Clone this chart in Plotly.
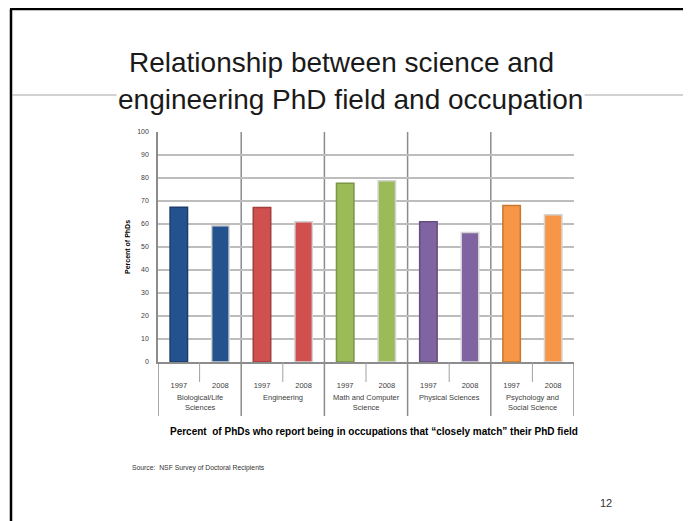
import plotly.graph_objects as go

categories = ["Biological/Life<br>Sciences", "Engineering", "Math and Computer<br>Science",
              "Physical Sciences", "Psychology and<br>Social Science"]
years = ["1997", "2008"]
values_1997 = [67.3, 67.2, 77.7, 61.0, 68.0]
values_2008 = [59.2, 61.0, 78.8, 56.3, 64.0]
colors = ["#23528E", "#D0504F", "#9BBB59", "#8064A2", "#F79646"]
edge_1997 = ["#1A3E6C", "#A23E3C", "#7A9646", "#634E80", "#C9782F"]
edge_2008 = "#D4D4D4"

OFF = 8  # page body margin
W, H = 691 - OFF, 521 - OFF
L, R, T, B = 158 - OFF, 574 - OFF, 132 - OFF, 362 - OFF

def px(x):
    return (x - OFF - L) / (R - L)

def py(y):
    return (B - (y - OFF)) / (B - T)

nyr = len(years)
xpos, xlab, yvals, mcol, lcol = [], [], [], [], []
for i, c in enumerate(categories):
    for j, yr in enumerate(years):
        xpos.append(i * nyr + j)
        xlab.append(yr)
        yvals.append(values_1997[i] if j == 0 else values_2008[i])
        mcol.append(colors[i])
        lcol.append(edge_1997[i] if j == 0 else edge_2008)

fig = go.Figure(go.Bar(
    x=xpos, y=yvals,
    marker=dict(color=mcol, line=dict(color=lcol, width=1.5)),
    width=0.42, showlegend=False,
))

ncat = len(categories)
shapes = []
for k in range(ncat + 1):
    xb = k * nyr - 0.5
    top = 1 if 0 < k < ncat else 0
    shapes.append(dict(type="line", xref="x", yref="paper",
                       x0=xb, x1=xb, y0=py(416), y1=top,
                       line=dict(color="#8C8C8C", width=1.5), layer="below"))
for k in range(ncat):
    xb = k * nyr + 0.5
    shapes.append(dict(type="line", xref="x", yref="paper",
                       x0=xb, x1=xb, y0=py(382), y1=0,
                       line=dict(color="#A0A0A0", width=1)))
shapes.append(dict(type="line", xref="paper", yref="paper",
                   x0=px(11), x1=px(11), y0=py(9), y1=py(530),
                   line=dict(color="#000000", width=2.5)))
shapes.append(dict(type="line", xref="paper", yref="paper",
                   x0=px(10), x1=px(700), y0=py(9), y1=py(9),
                   line=dict(color="#000000", width=2.5)))
shapes.append(dict(type="line", xref="paper", yref="paper",
                   x0=px(12), x1=px(700), y0=py(95), y1=py(95),
                   line=dict(color="#A6A6A6", width=1)))

FONT = "Liberation Sans, Arial"
annotations = [
    dict(text="Relationship between science and", x=px(341), y=py(63),
         xref="paper", yref="paper", showarrow=False, xanchor="center", yanchor="middle",
         font=dict(family=FONT, size=28, color="#1A1A1A")),
    dict(text="engineering PhD field and occupation", x=px(350), y=py(100),
         xref="paper", yref="paper", showarrow=False, xanchor="center", yanchor="middle",
         bgcolor="#FFFFFF",
         font=dict(family=FONT, size=28, color="#1A1A1A")),
    dict(text="<b>Percent  of PhDs who report being in occupations that \u201cclosely match\u201d their PhD field</b>",
         x=px(374), y=py(431), xref="paper", yref="paper", showarrow=False,
         xanchor="center", yanchor="middle",
         font=dict(family=FONT, size=10, color="#000000")),
    dict(text="Source:  NSF Survey of Doctoral Recipients", x=px(130), y=py(468),
         xref="paper", yref="paper", showarrow=False, xanchor="left", yanchor="middle",
         font=dict(family=FONT, size=6.8, color="#333333")),
    dict(text="12", x=px(606), y=py(503), xref="paper", yref="paper", showarrow=False,
         xanchor="center", yanchor="middle",
         font=dict(family=FONT, size=11, color="#333333")),
]
for i, c in enumerate(categories):
    annotations.append(dict(text=c, x=i * nyr + 0.5, y=py(391), xref="x", yref="paper",
                            showarrow=False, xanchor="center", yanchor="top",
                            font=dict(family=FONT, size=7.5, color="#404040")))

fig.update_layout(
    width=W, height=H,
    margin=dict(l=L, r=W - R, t=T, b=H - B, pad=0),
    paper_bgcolor="#FFFFFF", plot_bgcolor="#FFFFFF",
    shapes=shapes, annotations=annotations,
    xaxis=dict(range=[-0.5, ncat * nyr - 0.5], tickmode="array", tickvals=xpos, ticktext=xlab,
               showline=True, linecolor="#8C8C8C", linewidth=1.5, ticks="",
               ticklabelstandoff=15,
               tickfont=dict(family=FONT, size=7.5, color="#404040"),
               showgrid=False, zeroline=False),
    yaxis=dict(range=[0, 100], dtick=10, showgrid=True, gridcolor="#BDBDBD", gridwidth=1.5,
               showline=True, linecolor="#8C8C8C", linewidth=1.5,
               ticks="", tickfont=dict(family=FONT, size=7, color="#404040"),
               ticklabelstandoff=6, zeroline=False,
               title=dict(text="<b>Percent of PhDs</b>", standoff=6,
                          font=dict(family=FONT, size=7, color="#000000"))),
)

fig.write_html("out.html")
